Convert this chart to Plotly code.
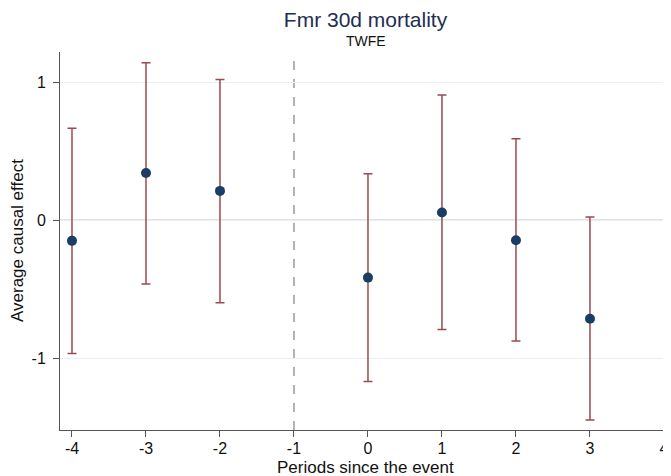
import plotly.graph_objects as go

periods = [-4, -3, -2, 0, 1, 2, 3]
estimates = [-0.148, 0.343, 0.214, -0.414, 0.058, -0.143, -0.712]
ci_upper = [0.668, 1.142, 1.021, 0.339, 0.908, 0.591, 0.024]
ci_lower = [-0.964, -0.460, -0.596, -1.166, -0.790, -0.874, -1.445]
x_ticks = [-4, -3, -2, -1, 0, 1, 2, 3, 4]
y_ticks = [-1, 0, 1]
event_period = -1

err_plus = [u - e for u, e in zip(ci_upper, estimates)]
err_minus = [e - l for e, l in zip(estimates, ci_lower)]

FONT = "Liberation Sans, Arial, Helvetica, sans-serif"

# page body has an 8px margin, so the figure is sized/offset to compensate
W, H = 663, 468
ML, MR, MT, MB = 52, 0, 44, 46

fig = go.Figure()
fig.add_trace(go.Scatter(
    x=periods, y=estimates, mode="markers",
    marker=dict(color="#1a3d66", size=10),
    error_y=dict(type="data", symmetric=False, array=err_plus, arrayminus=err_minus,
                 color="#9a4a50", thickness=1.5, width=4.5),
    showlegend=False,
))

fig.add_hline(y=0, line=dict(color="#8a8a8a", width=1.3), layer="below")
fig.add_vline(x=event_period, line=dict(color="#9a9a9a", width=1.5, dash="dash"), layer="below")

fig.update_layout(
    width=W, height=H,
    margin=dict(l=ML, r=MR, t=MT, b=MB),
    plot_bgcolor="white", paper_bgcolor="white",
    font=dict(family=FONT, size=16, color="#111"),
    title=dict(
        text="Fmr 30d mortality",
        xref="paper", x=0.5, xanchor="center",
        yref="container", y=1 - 12 / H, yanchor="middle",
        font=dict(family=FONT, size=21, color="#1e2d52"),
    ),
    annotations=[
        dict(text="TWFE", xref="paper", x=0.5, xanchor="center",
             yref="paper", y=1, yanchor="middle", yshift=MT - 33,
             showarrow=False, font=dict(family=FONT, size=14, color="#111")),
        dict(text="Periods since the event", xref="paper", x=0.5, xanchor="center",
             yref="paper", y=0, yanchor="middle", yshift=-37,
             showarrow=False, font=dict(family=FONT, size=17, color="#111")),
        dict(text="Average causal effect", xref="paper", x=0, xanchor="center",
             yref="paper", y=0.5, yanchor="middle", xshift=-(ML - 9), textangle=-90,
             showarrow=False, font=dict(family=FONT, size=17, color="#111")),
    ],
)
fig.update_xaxes(
    range=[-4.162, 4.095], tickvals=x_ticks, ticktext=[str(v) for v in x_ticks],
    showgrid=False, zeroline=False, showline=True, linecolor="#555", linewidth=1,
    ticks="outside", ticklen=6, tickcolor="#555", automargin=False,
    ticklabelstandoff=-2,
    tickfont=dict(size=16),
)
fig.update_yaxes(
    range=[-1.518, 1.22], tickvals=y_ticks, ticktext=[str(v) for v in y_ticks],
    showgrid=True, gridcolor="#e9eff3", gridwidth=1, zeroline=False,
    showline=True, linecolor="#555", linewidth=1,
    ticks="outside", ticklen=6, tickcolor="#555", automargin=False,
    ticklabelstandoff=4,
    tickfont=dict(size=16),
)

fig.write_html("out.html")
